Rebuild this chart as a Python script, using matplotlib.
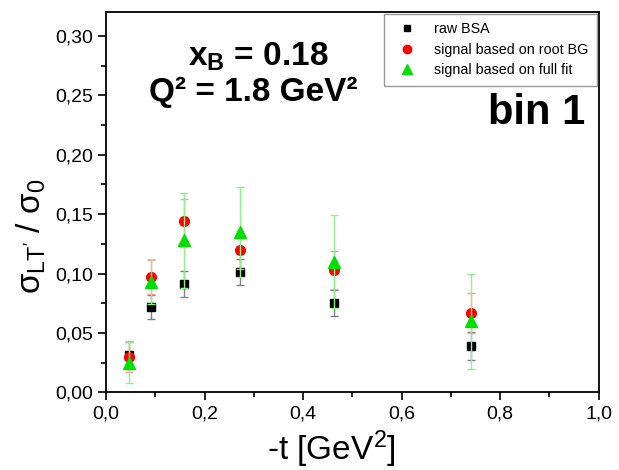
import matplotlib
matplotlib.use('Agg')

from matplotlib import rc
rc('font', family=['Liberation Sans', 'DejaVu Sans'])
rc('mathtext', fontset='custom', rm='Liberation Sans', it='Liberation Sans', bf='Liberation Sans:bold')

from matplotlib import pyplot as plt
from matplotlib.lines import Line2D
from matplotlib.ticker import MultipleLocator, FuncFormatter

###############################################################################
# Data
t_vals = [0.047, 0.091, 0.158, 0.273, 0.463, 0.740]

raw_bsa = [0.031, 0.072, 0.091, 0.101, 0.075, 0.039]
raw_err = [0.011, 0.010, 0.011, 0.011, 0.011, 0.012]

root_bg = [0.030, 0.097, 0.144, 0.120, 0.103, 0.067]
root_err = [0.013, 0.014, 0.019, 0.016, 0.016, 0.017]

full_fit = [0.025, 0.093, 0.128, 0.135, 0.110, 0.060]
full_err = [0.017, 0.019, 0.040, 0.038, 0.039, 0.040]

series_labels = ['raw BSA', 'signal based on root BG', 'signal based on full fit']

###############################################################################
# Plot

fig = plt.figure(figsize=[6.19, 4.70], dpi=100)
ax = fig.add_axes([0.1712, 0.1653, 0.796, 0.8085])

styles = [
    ('s', 'black', 6, '#808080'),
    ('o', 'red', 7, '#ff9a9a'),
    ('^', '#00e000', 8, '#90f090'),
]
series = [(raw_bsa, raw_err), (root_bg, root_err), (full_fit, full_err)]

handles = []
for i, ((vals, errs), (mk, col, ms, ecol)) in enumerate(zip(series, styles)):
    ax.errorbar(t_vals, vals, yerr=errs, fmt=mk, color=col, ms=ms,
                ecolor=ecol, elinewidth=1.0, capsize=3, capthick=1.0,
                zorder=3 + i)
    handles.append(Line2D([], [], linestyle='none', marker=mk, color=col,
                          ms=ms - 1, label=series_labels[i]))

ax.set_xlim(0, 1.0)
ax.set_ylim(0, 0.32)
ax.xaxis.set_major_locator(MultipleLocator(0.2))
ax.xaxis.set_minor_locator(MultipleLocator(0.1))
ax.yaxis.set_major_locator(MultipleLocator(0.05))
ax.yaxis.set_minor_locator(MultipleLocator(0.025))
ax.xaxis.set_major_formatter(FuncFormatter(lambda v, p: ('%.1f' % v).replace('.', ',')))
ax.yaxis.set_major_formatter(FuncFormatter(lambda v, p: ('%.2f' % v).replace('.', ',')))
ax.tick_params(which='both', direction='out', top=False, right=False,
               labelsize=14, width=1.2)
ax.tick_params(which='major', length=6)
ax.tick_params(which='minor', length=3.5)
for sp in ax.spines.values():
    sp.set_linewidth(1.3)

ax.set_xlabel(r'-t [GeV$^2$]', fontsize=24)
ax.xaxis.set_label_coords(0.457, -0.094)
ax.set_ylabel(r"$\sigma_{\mathrm{LT'}}$ / $\sigma_0$", fontsize=24)
ax.yaxis.set_label_coords(-0.118, 0.41)

ax.text(0.31, 0.859, r'$\mathbf{x_B}$ = 0.18', transform=ax.transAxes,
        fontsize=24, fontweight='bold', ha='center', va='baseline')
ax.text(0.30, 0.767, 'Q² = 1.8 GeV²', transform=ax.transAxes,
        fontsize=24, fontweight='bold', ha='center', va='baseline')
ax.text(0.972, 0.735, 'bin 1', transform=ax.transAxes,
        fontsize=30, fontweight='bold', ha='right', va='center')

leg = ax.legend(handles=handles, loc='upper right', fontsize=10.3,
                frameon=True, fancybox=False, borderaxespad=0.1,
                handletextpad=0.9, labelspacing=0.45, borderpad=0.6,
                handlelength=2.0)
leg.get_frame().set_edgecolor('#808080')
leg.get_frame().set_linewidth(1.0)

fig.savefig('out.png', dpi=100)
